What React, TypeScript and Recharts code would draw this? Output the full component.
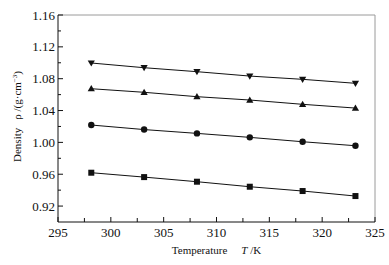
import { LineChart, Line, XAxis, YAxis, ReferenceLine, Label } from 'recharts';

const temps = [298.15, 303.15, 308.15, 313.15, 318.15, 323.15];
const seriesA = [0.9619, 0.9564, 0.9506, 0.9443, 0.9389, 0.9326];
const seriesB = [1.0218, 1.0161, 1.0113, 1.0063, 1.0008, 0.9958];
const seriesC = [1.0674, 1.0629, 1.0574, 1.0532, 1.0478, 1.0431];
const seriesD = [1.0997, 1.0938, 1.0888, 1.0833, 1.0792, 1.0742];

const xTicks = [295, 297.5, 300, 302.5, 305, 307.5, 310, 312.5, 315, 317.5, 320, 322.5, 325];
const yTicks = [0.92, 0.94, 0.96, 0.98, 1.0, 1.02, 1.04, 1.06, 1.08, 1.1, 1.12, 1.14, 1.16];

const rows = temps.map((t, i) => ({
  t,
  a: seriesA[i],
  b: seriesB[i],
  c: seriesC[i],
  d: seriesD[i],
}));

const FONT = "'Liberation Serif', 'Times New Roman', serif";
const INK = '#111';
const txt = (size: number) => ({ fontFamily: FONT, fontSize: size, fill: INK });

function XTick({ x, y, payload }: any) {
  const v = payload.value as number;
  const major = Math.abs(v % 5) < 1e-6;
  return (
    <g>
      <line x1={x} x2={x} y1={y} y2={y - (major ? 5 : 4)} stroke={INK} strokeWidth={1} />
      {major && (
        <text x={x} y={y + 15} textAnchor="middle" style={txt(13)}>
          {v}
        </text>
      )}
    </g>
  );
}

function YTick({ x, y, payload }: any) {
  const v = payload.value as number;
  const major = Math.round(v * 100) % 4 === 0;
  return (
    <g>
      <line x1={x} x2={x + (major ? 5 : 3)} y1={y} y2={y} stroke={INK} strokeWidth={1} />
      {major && (
        <text x={x - 3} y={y + 4.5} textAnchor="end" style={txt(13)}>
          {v.toFixed(2)}
        </text>
      )}
    </g>
  );
}

function marker(kind: string) {
  return (p: any) => {
    const { cx, cy, index } = p;
    const key = `${kind}-${index}`;
    if (kind === 'square') return <rect key={key} x={cx - 3} y={cy - 3} width={6} height={6} fill={INK} />;
    if (kind === 'circle') return <circle key={key} cx={cx} cy={cy} r={3.2} fill={INK} />;
    if (kind === 'up')
      return <path key={key} d={`M${cx},${cy - 3.6} L${cx + 3.6},${cy + 2.6} L${cx - 3.6},${cy + 2.6} Z`} fill={INK} />;
    return <path key={key} d={`M${cx},${cy + 3.6} L${cx + 3.6},${cy - 2.6} L${cx - 3.6},${cy - 2.6} Z`} fill={INK} />;
  };
}

function XTitle({ viewBox }: any) {
  const cx = viewBox.x + viewBox.width / 2;
  return (
    <text x={cx} y={254} textAnchor="middle" style={txt(11)}>
      <tspan>Temperature</tspan>
      <tspan dx={14} fontStyle="italic">T</tspan>
      <tspan> /K</tspan>
    </text>
  );
}

function YTitle({ viewBox }: any) {
  const cy = viewBox.y + viewBox.height / 2;
  return (
    <text x={0} y={0} transform={`translate(21, ${cy - 2}) rotate(-90)`} textAnchor="middle" style={txt(11)}>
      <tspan>Density</tspan>
      <tspan dx={8}>ρ /(g·cm</tspan>
      <tspan dy={-4} style={{ fontSize: 7 }}>−3</tspan>
      <tspan dy={4}>)</tspan>
    </text>
  );
}

export default function App() {
  return (
    <div style={{ position: 'absolute', left: 0, top: 0, width: 389, height: 265, background: '#fff' }}>
      <LineChart width={389} height={265} data={rows} margin={{ top: 15, right: 14, bottom: 0, left: 0 }}>
        <XAxis
          dataKey="t"
          type="number"
          domain={[295, 325]}
          ticks={xTicks}
          interval={0}
          height={43}
          axisLine={{ stroke: INK, strokeWidth: 1 }}
          tickLine={false}
          tickSize={0}
          tickMargin={0}
          tick={<XTick />}
          allowDataOverflow
        >
          <Label content={<XTitle />} />
        </XAxis>
        <YAxis
          type="number"
          domain={[0.9, 1.16]}
          ticks={yTicks}
          interval={0}
          width={58}
          axisLine={{ stroke: INK, strokeWidth: 1 }}
          tickLine={false}
          tickSize={0}
          tickMargin={0}
          tick={<YTick />}
          allowDataOverflow
        >
          <Label content={<YTitle />} />
        </YAxis>
        <ReferenceLine y={1.16} stroke="#9a9a9a" strokeWidth={1} />
        <ReferenceLine x={325} stroke="#9a9a9a" strokeWidth={1} />
        <Line dataKey="a" stroke={INK} strokeWidth={1} dot={marker('square')} isAnimationActive={false} />
        <Line dataKey="b" stroke={INK} strokeWidth={1} dot={marker('circle')} isAnimationActive={false} />
        <Line dataKey="c" stroke={INK} strokeWidth={1} dot={marker('up')} isAnimationActive={false} />
        <Line dataKey="d" stroke={INK} strokeWidth={1} dot={marker('down')} isAnimationActive={false} />
      </LineChart>
    </div>
  );
}
